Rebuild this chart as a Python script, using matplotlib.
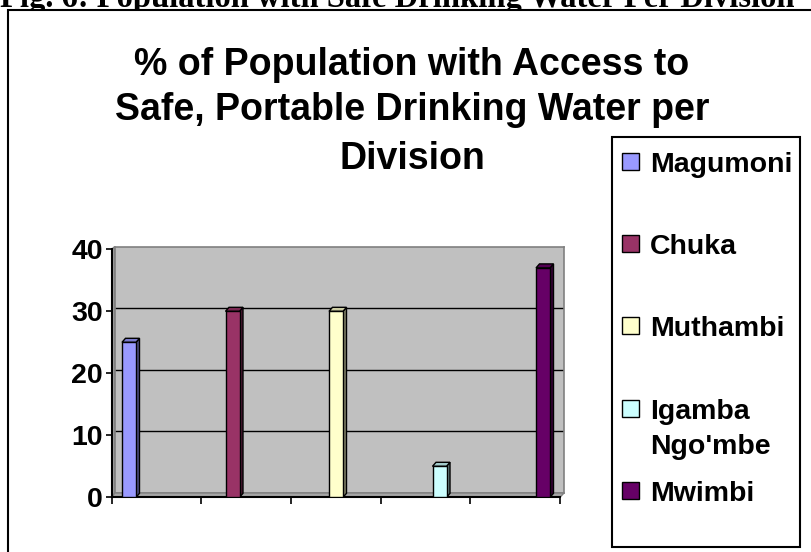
"""
Re-drawing of the Excel 3D column chart:
% of population with access to safe drinking water per division.
"""

import numpy as np
import matplotlib
matplotlib.use("Agg")
import matplotlib.pyplot as plt
from matplotlib.colors import to_rgb
from matplotlib.patches import Rectangle, Polygon

# ── data ───────────────────────────────────────────────────────────────────────
divisions = ["Magumoni", "Chuka", "Muthambi", "Igamba\nNgo'mbe", "Mwimbi"]
pct_access = [25, 30, 30, 5, 37]
bar_colors = ["#9999FF", "#993366", "#FFFFCC", "#CCFFFF", "#660066"]
y_ticks = [0, 10, 20, 30, 40]
title_lines = ["% of Population with Access to",
               "Safe, Portable Drinking Water per",
               "Division"]
caption = "Fig. 6: Population with Safe Drinking Water Per Division"

plt.rcParams["font.family"] = "Liberation Sans"
plt.rcParams["font.weight"] = "bold"

W, H = 811, 552
fig = plt.figure(figsize=(W / 100, H / 100), dpi=100)


def fx(px):
    return px / W


def fy(py):
    return 1 - py / H


def shade(c, k):
    r, g, b = to_rgb(c)
    return (r * k, g * k, b * k)


# ── caption (mostly hidden behind the chart object) + chart border ─────────────
fig.text(fx(0), fy(7), caption, family="Liberation Serif", weight="bold",
         fontsize=23.5, ha="left", va="baseline", zorder=-3)
fig.add_artist(Rectangle((fx(8), fy(900)), 2, fy(10) - fy(900),
                         transform=fig.transFigure, facecolor="white",
                         edgecolor="black", lw=1.5, zorder=-2))

# ── title ──────────────────────────────────────────────────────────────────────
for line, base in zip(title_lines, [75, 120, 169]):
    fig.text(fx(412), fy(base), line, ha="center", va="baseline",
             fontsize=27, weight="bold")

# ── back wall ──────────────────────────────────────────────────────────────────
wall = (114.5, 246.7, 564, 493)   # left, top, right, bottom in px
ax_wall = fig.add_axes([fx(wall[0]), fy(wall[3]),
                        fx(wall[2]) - fx(wall[0]), fy(wall[1]) - fy(wall[3])])
ax_wall.set_facecolor("#C0C0C0")
ax_wall.set_xlim(0, 1)
ax_wall.set_ylim(0, 40)
ax_wall.set_xticks([])
ax_wall.set_yticks(y_ticks[1:-1])
ax_wall.grid(axis="y", color="black", lw=1)
ax_wall.tick_params(left=False, labelleft=False)
for s in ax_wall.spines.values():
    s.set_color("#808080")
    s.set_linewidth(1.2)

# ── front axes with bars ───────────────────────────────────────────────────────
x0, x1 = 111.7, 560
y0, y1 = 497.3, 249.3
ax = fig.add_axes([fx(x0), fy(y0), fx(x1) - fx(x0), fy(y1) - fy(y0)])
ax.set_zorder(1)
ax.patch.set_alpha(0)

px_per_unit = 103.5
px_per_val = (y0 - y1) / 40
xmin = -(129 - x0) / px_per_unit
xmax = xmin + (x1 - x0) / px_per_unit
ax.set_xlim(xmin, xmax)
ax.set_ylim(0, 40)

# floor and side wall strips
wx0 = (wall[0] - x0) / (x1 - x0)
wx1 = (wall[2] - x0) / (x1 - x0)
wy0 = (y0 - wall[3]) / (y0 - y1)
wy1 = (y0 - wall[1]) / (y0 - y1)
ax.add_patch(Polygon([(0, 0), (1, 0), (wx1, wy0), (wx0, wy0)], closed=True,
                     transform=ax.transAxes, fc="#A6A6A6", ec="#808080",
                     lw=1, clip_on=False, zorder=1))
ax.add_patch(Polygon([(0, 0), (wx0, wy0), (wx0, wy1), (0, 1)], closed=True,
                     transform=ax.transAxes, fc="#A6A6A6", ec="#808080",
                     lw=1, clip_on=False, zorder=1))

xpos = np.arange(len(divisions))
bw = 14 / px_per_unit
ddx = 3.5 / px_per_unit
ddy = 4 / px_per_val
ax.bar(xpos, pct_access, width=bw, color=bar_colors, edgecolor="black",
       linewidth=1, zorder=3)
for x, v, c in zip(xpos, pct_access, bar_colors):
    l, r = x - bw / 2, x + bw / 2
    ax.add_patch(Polygon([(r, 0), (r + ddx, ddy), (r + ddx, v + ddy), (r, v)],
                         closed=True, fc=shade(c, 0.5), ec="black", lw=1,
                         zorder=2))
    ax.add_patch(Polygon([(l, v), (l + ddx, v + ddy), (r + ddx, v + ddy), (r, v)],
                         closed=True, fc=shade(c, 0.8), ec="black", lw=1,
                         zorder=2))

ax.spines[["top", "right"]].set_visible(False)
for s in ("left", "bottom"):
    ax.spines[s].set_linewidth(1.5)
ax.set_yticks(y_ticks)
ax.set_xticks(np.linspace(xmin, xmax, 6))
ax.tick_params(axis="x", labelbottom=False, direction="out", length=5, width=1.2)
ax.tick_params(axis="y", labelsize=20.5, direction="out", length=4.5,
               width=1.2, pad=2)

# ── legend ─────────────────────────────────────────────────────────────────────
fig.add_artist(Rectangle((fx(612), fy(547)), fx(800) - fx(612), fy(137) - fy(547),
                         transform=fig.transFigure, fc="white", ec="black",
                         lw=1.5))
for i, (lab, c) in enumerate(zip(divisions, bar_colors)):
    top = 153 + 82.2 * i
    fig.add_artist(Rectangle((fx(622), fy(top + 17)), 17 / W, 17 / H,
                             transform=fig.transFigure, fc=c, ec="black", lw=1))
    for k, part in enumerate(lab.split("\n")):
        fig.text(fx(650), fy(top + 19 + 35 * k), part, ha="left",
                 va="baseline", fontsize=20.5)

fig.savefig("out.png", dpi=100)
